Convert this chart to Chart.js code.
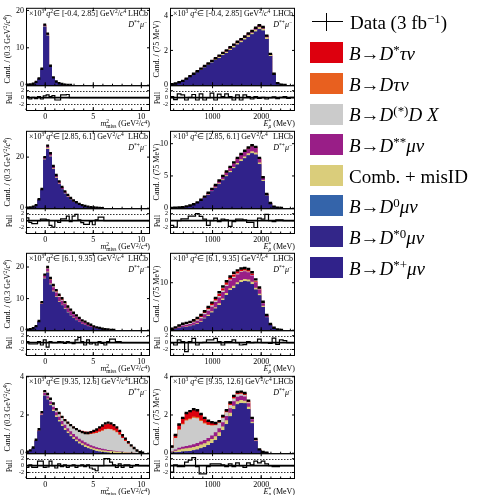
<!DOCTYPE html>
<html lang="en">
<head>
<meta charset="UTF-8">
<title>B to D* mu nu fit projections</title>
<script src="https://cdn.jsdelivr.net/npm/chart.js@4"></script>
<style>
  html, body { margin: 0; padding: 0; background: #fff; }
  #fig { position: relative; width: 477px; height: 495px; overflow: hidden;
         font-family: "Liberation Serif", "Times New Roman", serif; color: #000; }
  #fig canvas { position: absolute; }
  .txt { position: absolute; white-space: nowrap; line-height: 1; }
  .txt sup, .txt sub { font-size: 0.68em; line-height: 0; }
  .txt sup { vertical-align: 0.5em; }
  .txt sub { vertical-align: -0.25em; }
  .rot { transform: translate(-50%, -50%) rotate(-90deg); }
  .stk { display: inline-block; vertical-align: -0.35em; font-size: 0.68em; line-height: 0.95; }
  .stk span { display: block; }
  .sm { font-size: 8px; }
  .leg { font-size: 19px; line-height: 19px; }
  .box { position: absolute; width: 33px; height: 21px; }
  .bar { position: absolute; background: #000; }
</style>
</head>
<body>
<div id="fig"></div>
<script>
// q^2 slices, one row each
const q2Ranges = ['[-0.4, 2.85]', '[2.85, 6.1]', '[6.1, 9.35]', '[9.35, 12.6]'];

// binning
const m2Lo = -2, m2Width = 0.3, m2Bins = 43, m2Hi = 10.9;   // m2miss, GeV^2/c^4
const eLo = 125, eWidth = 75, eBins = 34, eHi = 2695;      // E*mu, MeV

// tick labels
const m2XTicks = [0, 5, 10];
const eXTicks = [1000, 2000];
const m2YTicks = [[0, 10, 20], [0, 20], [0, 10, 20], [0, 2, 4]];
const eYTicks = [[0, 2, 4], [0, 5, 10], [0, 10], [0, 2, 4]];
const m2YMax = [20.7, 30.3, 24.5, 4.05];
const eYMax = [4.45, 12, 16.3, 4.05];
const pullTicks = [-2, 0, 2];
const pullGuides = [-2, 2];

// ---- m2miss projections (x10^3 candidates), one array per q2 slice ----
const m2Data = [
  [0.1, 0.2, 0.4, 0.9, 1.8, 4.4, 16.2, 13.8, 5.2, 2.1, 1.0, 0.5, 0.3, 0.15, 0.08, 0.04],
  [0.15, 0.3, 0.6, 1.2, 3.5, 7.5, 20, 24.5, 21.5, 16.5, 13, 10.5, 8.3, 6.6, 5.2, 4.0, 3.0, 2.3, 1.7, 1.2, 0.85, 0.6, 0.4, 0.25, 0.15, 0.08, 0.04],
  [0.15, 0.3, 0.6, 1.3, 2.9, 8.9, 17.6, 20.0, 16.5, 14.3, 12.7, 11.2, 10.1, 8.9, 7.5, 6.5, 5.5, 4.7, 3.9, 3.1, 2.7, 2.1, 1.7, 1.2, 0.9, 0.7, 0.5, 0.3, 0.2, 0.1, 0.05],
  [0.08, 0.15, 0.3, 0.7, 1.25, 2.15, 3.25, 3.1, 2.85, 2.6, 2.3, 2.1, 1.9, 1.73, 1.6, 1.47, 1.35, 1.26, 1.17, 1.1, 1.06, 1.06, 1.1, 1.17, 1.24, 1.35, 1.45, 1.56, 1.6, 1.56, 1.47, 1.35, 1.17, 0.94, 0.76, 0.58, 0.41, 0.27, 0.14, 0.05, 0.02]
];
const m2DstpMu = [
  [0.09, 0.18, 0.37, 0.84, 1.7, 4.2, 15.6, 13.2, 4.9, 1.9, 0.88, 0.42, 0.24, 0.11, 0.05, 0.02],
  [0.13, 0.27, 0.55, 1.1, 3.3, 7.1, 19.0, 23.2, 20.1, 15.2, 11.8, 9.4, 7.3, 5.7, 4.4, 3.3, 2.45, 1.83, 1.32, 0.9, 0.62, 0.42, 0.27, 0.16, 0.09, 0.05, 0.02],
  [0.13, 0.27, 0.55, 1.2, 2.7, 8.3, 16.3, 18.2, 14.4, 12.2, 10.4, 8.9, 7.8, 6.7, 5.5, 4.6, 3.8, 3.1, 2.5, 1.9, 1.6, 1.2, 0.9, 0.6, 0.42, 0.3, 0.2, 0.11, 0.07, 0.03, 0.01],
  [0.07, 0.13, 0.27, 0.64, 1.15, 1.98, 3.0, 2.8, 2.5, 2.2, 1.9, 1.65, 1.42, 1.22, 1.04, 0.88, 0.74, 0.61, 0.5, 0.4, 0.32, 0.25, 0.19, 0.14, 0.1, 0.07, 0.05, 0.03, 0.02, 0.01, 0.01]
];
const m2Dst0Mu = [[], [], [], []];
const m2D0Mu = [[], [], [], []];
const m2Comb = [
  [0.01, 0.01, 0.02, 0.03, 0.05, 0.1, 0.25, 0.22, 0.12, 0.07, 0.04, 0.03, 0.02, 0.015, 0.01, 0.01],
  [0.01, 0.02, 0.03, 0.05, 0.1, 0.18, 0.4, 0.45, 0.45, 0.4, 0.35, 0.3, 0.25, 0.22, 0.19, 0.16, 0.13, 0.11, 0.09, 0.07, 0.06, 0.05, 0.04, 0.03, 0.02, 0.01, 0.01],
  [0.01, 0.01, 0.02, 0.04, 0.07, 0.15, 0.3, 0.35, 0.35, 0.33, 0.31, 0.3, 0.28, 0.26, 0.24, 0.22, 0.2, 0.18, 0.16, 0.14, 0.12, 0.1, 0.09, 0.07, 0.06, 0.05, 0.04, 0.03, 0.02, 0.01, 0.01],
  [0, 0.01, 0.01, 0.02, 0.03, 0.04, 0.05, 0.06, 0.07, 0.08, 0.08, 0.09, 0.09, 0.1, 0.1, 0.1, 0.11, 0.11, 0.11, 0.12, 0.12, 0.12, 0.12, 0.12, 0.12, 0.12, 0.11, 0.11, 0.1, 0.1, 0.09, 0.08, 0.07, 0.06, 0.05, 0.04, 0.03, 0.02, 0.01]
];
const m2Dss = [
  [0, 0.01, 0.01, 0.02, 0.04, 0.08, 0.25, 0.28, 0.14, 0.1, 0.06, 0.04, 0.03, 0.02, 0.015, 0.01],
  [0.01, 0.01, 0.02, 0.04, 0.08, 0.17, 0.45, 0.65, 0.75, 0.7, 0.65, 0.6, 0.55, 0.5, 0.45, 0.38, 0.3, 0.24, 0.19, 0.15, 0.1, 0.08, 0.05, 0.04, 0.03, 0.01, 0.01],
  [0.01, 0.01, 0.02, 0.04, 0.08, 0.3, 0.65, 0.9, 1.1, 1.1, 1.2, 1.3, 1.25, 1.3, 1.2, 1.15, 1.05, 0.95, 0.85, 0.75, 0.65, 0.55, 0.47, 0.36, 0.28, 0.22, 0.16, 0.1, 0.07, 0.04, 0.02],
  [0, 0.01, 0.01, 0.02, 0.04, 0.07, 0.1, 0.12, 0.14, 0.15, 0.16, 0.17, 0.17, 0.17, 0.17, 0.17, 0.16, 0.16, 0.15, 0.14, 0.13, 0.12, 0.11, 0.1, 0.09, 0.08, 0.07, 0.06, 0.05, 0.04, 0.03, 0.02, 0.02, 0.01, 0.01]
];
const m2DDX = [
  [],
  [0, 0, 0, 0, 0, 0, 0.02, 0.03, 0.04, 0.05, 0.05, 0.05, 0.04, 0.04, 0.03, 0.03, 0.02, 0.02, 0.02, 0.01, 0.01],
  [0, 0, 0, 0, 0.01, 0.03, 0.08, 0.12, 0.2, 0.25, 0.3, 0.3, 0.3, 0.28, 0.26, 0.24, 0.22, 0.2, 0.18, 0.16, 0.14, 0.12, 0.1, 0.08, 0.06, 0.05, 0.04, 0.03, 0.02, 0.01, 0.01],
  [0, 0, 0, 0, 0, 0.01, 0.05, 0.07, 0.1, 0.13, 0.14, 0.17, 0.2, 0.22, 0.25, 0.28, 0.3, 0.33, 0.36, 0.4, 0.44, 0.5, 0.58, 0.67, 0.75, 0.85, 0.95, 1.05, 1.1, 1.1, 1.06, 1.0, 0.88, 0.72, 0.58, 0.46, 0.33, 0.22, 0.12, 0.05]
];
const m2Dtau = [
  [], [], [],
  [0, 0, 0, 0, 0, 0, 0, 0, 0, 0, 0.01, 0.01, 0.01, 0.01, 0.01, 0.01, 0.02, 0.02, 0.02, 0.02, 0.02, 0.02, 0.02, 0.02, 0.02, 0.02, 0.02, 0.02, 0.02, 0.02, 0.02, 0.02, 0.01, 0.01, 0.01]
];
const m2DstTau = [
  [0, 0, 0, 0, 0.01, 0.02, 0.1, 0.1, 0.04, 0.03, 0.02, 0.01, 0.01],
  [0, 0, 0, 0.01, 0.02, 0.05, 0.15, 0.2, 0.2, 0.18, 0.15, 0.13, 0.11, 0.09, 0.08, 0.07, 0.06, 0.05, 0.04, 0.03, 0.03, 0.02, 0.02, 0.01, 0.01],
  [0, 0, 0, 0.01, 0.02, 0.08, 0.2, 0.3, 0.45, 0.45, 0.45, 0.4, 0.37, 0.33, 0.3, 0.27, 0.24, 0.21, 0.18, 0.15, 0.13, 0.11, 0.09, 0.07, 0.05, 0.04, 0.03, 0.02, 0.01, 0.01],
  [0, 0, 0, 0, 0, 0, 0.05, 0.05, 0.04, 0.04, 0.04, 0.04, 0.04, 0.04, 0.05, 0.05, 0.06, 0.07, 0.08, 0.09, 0.1, 0.11, 0.13, 0.15, 0.17, 0.2, 0.22, 0.25, 0.27, 0.27, 0.25, 0.22, 0.18, 0.14, 0.1, 0.07, 0.04, 0.02, 0.01]
];
const m2Pull = [
  [0.3, -0.4, 0.1, -0.3, 0.3, -0.4, 0.5, 0.8, 0.3, 0.6, -0.7, -0.7, 0.8, 0.8, 0.9],
  [0.8, -0.5, -0.9, -0.9, 0, 0.4, 0.4, 0.2, -1.4, -1.9, 0, -0.5, 0.5, 0.5, 1.3, -0.3, 1.3, 1.8, 0.2, -0.6, -1.1, -1.1, -0.3, -1.2, 0.2, 1.0, 1.0],
  [0.3, -0.4, -0.4, -0.4, 0.3, -0.7, 0.8, -1.3, 0.3, 0, 0, 0.3, 0.2, -0.2, 0.3, 0, -0.3, 0.8, 1.5, 0.3, -0.7, 0.8, -0.4, 0, -0.7, 0.3, -0.2, -0.7, 0.3, 1.0, 1.0, 0.3, 0.3],
  [-0.5, 0.2, -0.5, -0.5, 1.3, 1.3, -0.5, -0.4, 1.3, 0, -0.7, 0.5, -0.3, 0.2, -0.5, 0, 0.2, -0.5, 0, 0.2, -0.3, 0.2, -0.7, -1.0, -1.5, 0, 0, 2.0, 2.0, 1.0, 0.2, -0.5, 0.5, -0.5, 0.2, 0.2, -0.5, 0, 0.3, 0]
];

// ---- E*mu projections (x10^3 candidates) ----
const eData = [
  [0.05, 0.1, 0.17, 0.25, 0.38, 0.52, 0.66, 0.8, 0.95, 1.1, 1.25, 1.4, 1.55, 1.7, 1.86, 2.0, 2.18, 2.33, 2.5, 2.65, 2.8, 2.97, 3.12, 3.3, 3.45, 3.35, 2.85, 1.8, 0.66, 0.12, 0.03, 0.01],
  [0.03, 0.06, 0.1, 0.17, 0.28, 0.42, 0.62, 0.9, 1.3, 1.8, 2.4, 3.0, 3.6, 4.3, 5.0, 5.7, 6.4, 7.1, 7.8, 8.4, 8.9, 9.4, 9.75, 9.5, 7.8, 4.8, 2.2, 0.8, 0.25, 0.07, 0.02],
  [0.3, 0.6, 1.0, 1.35, 1.55, 1.75, 2.1, 2.6, 3.2, 4.0, 4.9, 5.8, 6.8, 8.0, 9.2, 10.3, 11.3, 12.1, 12.6, 13.0, 13.1, 12.9, 12.2, 10.7, 9.0, 6.0, 3.2, 1.3, 0.5, 0.15, 0.05],
  [0.35, 0.95, 1.5, 1.85, 2.1, 2.2, 2.3, 2.25, 2.05, 1.85, 1.7, 1.62, 1.58, 1.68, 1.95, 2.25, 2.65, 3.0, 3.2, 3.22, 3.15, 2.75, 1.85, 0.75, 0.2, 0.06, 0.02]
];
const eDstpMu = [
  [0.04, 0.08, 0.15, 0.22, 0.34, 0.47, 0.6, 0.73, 0.87, 1.01, 1.15, 1.29, 1.43, 1.57, 1.72, 1.85, 2.02, 2.16, 2.32, 2.46, 2.61, 2.77, 2.91, 3.08, 3.22, 3.13, 2.66, 1.68, 0.61, 0.11, 0.03, 0.01],
  [0.02, 0.05, 0.08, 0.14, 0.23, 0.35, 0.52, 0.76, 1.1, 1.54, 2.06, 2.58, 3.1, 3.71, 4.31, 4.92, 5.53, 6.14, 6.75, 7.28, 7.72, 8.17, 8.49, 8.29, 6.82, 4.21, 1.94, 0.71, 0.22, 0.06, 0.02],
  [0.1, 0.22, 0.4, 0.56, 0.66, 0.78, 1.0, 1.3, 1.7, 2.4, 3.0, 3.7, 4.5, 5.3, 6.3, 7.4, 8.4, 8.9, 9.6, 10.1, 10.3, 10.2, 9.7, 8.5, 7.3, 4.9, 2.65, 1.1, 0.43, 0.13, 0.04],
  [0.02, 0.03, 0.05, 0.07, 0.09, 0.11, 0.14, 0.18, 0.24, 0.31, 0.41, 0.53, 0.68, 0.9, 1.2, 1.52, 1.92, 2.3, 2.55, 2.62, 2.6, 2.3, 1.55, 0.62, 0.16, 0.05, 0.02]
];
const eDst0Mu = [[], [], [], []];
const eD0Mu = [[], [], [], []];
const eComb = [
  [0.01, 0.01, 0.01, 0.02, 0.02, 0.03, 0.03, 0.04, 0.04, 0.05, 0.05, 0.06, 0.06, 0.07, 0.07, 0.08, 0.08, 0.09, 0.09, 0.1, 0.1, 0.1, 0.11, 0.11, 0.12, 0.12, 0.1, 0.07, 0.03, 0.01],
  [0, 0, 0, 0.01, 0.01, 0.02, 0.02, 0.03, 0.05, 0.06, 0.08, 0.1, 0.12, 0.15, 0.17, 0.2, 0.22, 0.25, 0.27, 0.29, 0.31, 0.33, 0.34, 0.33, 0.27, 0.17, 0.08, 0.03, 0.01],
  [0.05, 0.08, 0.1, 0.12, 0.13, 0.14, 0.15, 0.17, 0.19, 0.22, 0.25, 0.28, 0.31, 0.35, 0.38, 0.41, 0.44, 0.46, 0.48, 0.49, 0.5, 0.5, 0.48, 0.43, 0.36, 0.24, 0.13, 0.05, 0.02, 0.01],
  [0.05, 0.1, 0.14, 0.16, 0.17, 0.18, 0.19, 0.2, 0.21, 0.21, 0.21, 0.21, 0.21, 0.2, 0.2, 0.2, 0.19, 0.18, 0.17, 0.16, 0.15, 0.13, 0.1, 0.05, 0.02, 0.01]
];
const eDss = [
  [0, 0.01, 0.01, 0.01, 0.02, 0.02, 0.03, 0.03, 0.04, 0.04, 0.05, 0.05, 0.06, 0.06, 0.07, 0.07, 0.08, 0.08, 0.09, 0.09, 0.09, 0.1, 0.1, 0.1, 0.1, 0.09, 0.08, 0.05, 0.02],
  [0.01, 0.01, 0.01, 0.02, 0.03, 0.04, 0.06, 0.08, 0.12, 0.16, 0.21, 0.26, 0.31, 0.36, 0.42, 0.47, 0.52, 0.57, 0.62, 0.66, 0.7, 0.73, 0.75, 0.72, 0.58, 0.34, 0.15, 0.05, 0.02, 0.01],
  [0.08, 0.15, 0.25, 0.33, 0.37, 0.4, 0.45, 0.53, 0.62, 0.72, 0.84, 0.98, 1.12, 1.25, 1.38, 1.5, 1.6, 1.65, 1.67, 1.65, 1.6, 1.5, 1.35, 1.15, 0.9, 0.55, 0.28, 0.1, 0.03, 0.01],
  [0.03, 0.06, 0.09, 0.11, 0.12, 0.13, 0.14, 0.15, 0.16, 0.17, 0.18, 0.19, 0.2, 0.21, 0.22, 0.23, 0.24, 0.24, 0.24, 0.23, 0.22, 0.18, 0.12, 0.05, 0.01]
];
const eDDX = [
  [], [],
  [0.04, 0.08, 0.13, 0.18, 0.2, 0.21, 0.23, 0.25, 0.27, 0.29, 0.3, 0.3, 0.3, 0.29, 0.28, 0.26, 0.24, 0.22, 0.2, 0.18, 0.16, 0.14, 0.12, 0.1, 0.08, 0.05, 0.02, 0.01],
  [0.2, 0.6, 0.95, 1.17, 1.33, 1.36, 1.39, 1.3, 1.08, 0.87, 0.67, 0.52, 0.37, 0.28, 0.23, 0.19, 0.17, 0.14, 0.12, 0.1, 0.08, 0.06, 0.04, 0.02, 0.01]
];
const eDtau = [
  [], [], [],
  [0, 0.02, 0.03, 0.04, 0.05, 0.05, 0.06, 0.06, 0.05, 0.04, 0.03, 0.02, 0.02, 0.01, 0.01, 0.01, 0.01, 0.01, 0.01, 0.01, 0.01, 0.01]
];
const eDstTau = [
  [0, 0, 0, 0, 0, 0, 0.01, 0.01, 0.01, 0.01, 0.01, 0.01, 0.01, 0.01, 0.01, 0.01, 0.01, 0.01, 0.01, 0.01, 0.01, 0.01, 0.01, 0.01, 0.01, 0.01],
  [0, 0, 0, 0, 0, 0.01, 0.01, 0.02, 0.02, 0.03, 0.04, 0.05, 0.06, 0.07, 0.08, 0.09, 0.1, 0.11, 0.12, 0.13, 0.13, 0.13, 0.13, 0.12, 0.09, 0.05, 0.02, 0.01],
  [0.03, 0.07, 0.12, 0.16, 0.19, 0.22, 0.27, 0.3, 0.34, 0.38, 0.42, 0.45, 0.48, 0.5, 0.52, 0.52, 0.52, 0.5, 0.47, 0.44, 0.4, 0.36, 0.3, 0.24, 0.18, 0.12, 0.06, 0.02, 0.01],
  [0.05, 0.14, 0.24, 0.3, 0.34, 0.37, 0.38, 0.36, 0.31, 0.25, 0.2, 0.15, 0.1, 0.08, 0.09, 0.1, 0.12, 0.13, 0.11, 0.1, 0.09, 0.07, 0.04, 0.01]
];
const ePull = [
  [0.3, -0.6, 1.1, 0.8, -0.7, 0.1, 0.9, -0.7, 1.1, -0.7, 0.0, 1.3, -0.7, 1.0, 0.3, 1.1, 0.3, -0.7, 0.8, -0.7, 0.8, 0.3, -0.4, 0.3, -0.2, 0.1, -0.4, 0.0, 0.2, -0.3, 0.1, 0.3, -0.2, 0.1],
  [-1.4, -1.9, 0, 0.5, 0.5, 1.3, 1.3, 2.0, 1.2, 0.4, -1.4, 0, 0.7, -0.3, 0.4, 0.2, -1.7, -0.3, 0.4, 0.4, 0.2, -0.5, -0.5, -2.0, 0.7, 0.4, 1.8, 0, -0.3, 0.2, 0.2, 0, 0, 0],
  [0, -0.7, 0.8, 0.3, -2.6, 0.3, 1.2, -0.7, 0, 0.1, 0.8, 0.8, 1.2, 0.3, -0.7, 0.3, 0.3, 0.8, 0, -0.7, -0.6, 0.3, 0, 0.1, 1.0, 0, 0, -0.2, 1.3, -0.5, 0.8, 0.6, 0, 0],
  [-1.9, 0.2, -0.3, -0.3, 1.0, 1.6, 2.3, -0.3, -2.4, -2.4, -0.3, 0.5, 0.5, 0.5, 0.2, -0.3, 0.5, -0.3, 0.8, 0, -0.5, 0.8, 0.2, 1.3, 0.8, 1.3, 0.5, 0, -0.3, -0.3, 0, 0, 0, 0]
];

// legend order (top to bottom); the stack is built in reverse
const legendLabels = [
  '<i>B</i>&rarr;<i>D</i><sup>*</sup><i>&tau;&nu;</i>',
  '<i>B</i>&rarr;<i>D&tau;&nu;</i>',
  '<i>B</i>&rarr;<i>D</i><sup>(*)</sup><i>D X</i>',
  '<i>B</i>&rarr;<i>D</i><sup>**</sup><i>&mu;&nu;</i>',
  'Comb. + misID',
  '<i>B</i>&rarr;<i>D</i><sup>0</sup><i>&mu;&nu;</i>',
  '<i>B</i>&rarr;<i>D</i><sup>*0</sup><i>&mu;&nu;</i>',
  '<i>B</i>&rarr;<i>D</i><sup>*+</sup><i>&mu;&nu;</i>'
];
const legendColors = ['#dd000e', '#e8601f', '#cbcbcb', '#991e87', '#dacd7b', '#3464aa', '#332689', '#30228a'];
const m2Comp = [m2DstTau, m2Dtau, m2DDX, m2Dss, m2Comb, m2D0Mu, m2Dst0Mu, m2DstpMu];
const eComp = [eDstTau, eDtau, eDDX, eDss, eComb, eD0Mu, eDst0Mu, eDstpMu];

Chart.defaults.font.family = '"Liberation Serif", "Times New Roman", serif';
Chart.defaults.color = '#000';

const fig = document.getElementById('fig');
const rowTop = [7, 130, 252, 375];
const colLeft = [26, 170];
const colWidth = [124, 125];
const mainH = 78, pullH = 25;
const padT = 6, padR = 8, yW = 22, xH = 16;

function addText(html, css, cls) {
    const d = document.createElement('div');
    d.className = 'txt ' + (cls || '');
    d.innerHTML = html;
    Object.assign(d.style, css);
    fig.appendChild(d);
    return d;
}

// frame, inward ticks and pull guide lines
const panelFrame = {
    id: 'panelFrame',
    beforeDatasetsDraw(chart) {
        const {ctx, chartArea: a} = chart;
        const yp = chart.scales.yp;
        ctx.save();
        ctx.strokeStyle = '#000';
        ctx.lineWidth = 0.8;
        ctx.setLineDash([1.5, 1.5]);
        pullGuides.forEach(v => {
            const py = Math.round(yp.getPixelForValue(v)) + 0.5;
            ctx.beginPath(); ctx.moveTo(a.left, py); ctx.lineTo(a.right, py); ctx.stroke();
        });
        ctx.setLineDash([]);
        ctx.lineWidth = 1.7;
        const p0 = yp.getPixelForValue(0);
        ctx.beginPath(); ctx.moveTo(a.left, p0); ctx.lineTo(a.right, p0); ctx.stroke();
        ctx.restore();
    },
    afterDatasetsDraw(chart, args, opts) {
        const {ctx, chartArea: a} = chart;
        const {x, y, yp} = chart.scales;
        ctx.save();
        ctx.strokeStyle = '#000';
        ctx.lineWidth = 1;
        [y, yp].forEach(s => {
            ctx.strokeRect(a.left + 0.5, s.top + 0.5, a.right - a.left - 1, s.bottom - s.top);
            ctx.beginPath();
            s.ticks.forEach(t => {
                const py = s.getPixelForValue(t.value);
                ctx.moveTo(a.left, py); ctx.lineTo(a.left + 3, py);
                ctx.moveTo(a.right, py); ctx.lineTo(a.right - 3, py);
            });
            x.ticks.forEach(t => {
                const px = x.getPixelForValue(t.value);
                ctx.moveTo(px, s.bottom); ctx.lineTo(px, s.bottom - 3);
                ctx.moveTo(px, s.top); ctx.lineTo(px, s.top + 3);
            });
            for (let v = Math.ceil(x.min / opts.minor) * opts.minor; v <= x.max; v += opts.minor) {
                const px = x.getPixelForValue(v);
                ctx.moveTo(px, s.bottom); ctx.lineTo(px, s.bottom - 1.5);
            }
            ctx.stroke();
        });
        ctx.restore();
    }
};

function drawPanel(row, col) {
    const isM2 = col === 0;
    const lo = isM2 ? m2Lo : eLo;
    const w = isM2 ? m2Width : eWidth;
    const n = isM2 ? m2Bins : eBins;
    const hi = isM2 ? m2Hi : eHi;
    const comps = isM2 ? m2Comp : eComp;
    const dataVals = (isM2 ? m2Data : eData)[row];
    const pullVals = (isM2 ? m2Pull : ePull)[row];
    const yMax = (isM2 ? m2YMax : eYMax)[row];
    const yTicks = (isM2 ? m2YTicks : eYTicks)[row];
    const xTicks = isM2 ? m2XTicks : eXTicks;
    const centre = i => lo + (i + 0.5) * w;
    // histogram as step points on the bin edges (plus the closing edge)
    const stepPoints = vals => {
        const pts = [];
        for (let i = 0; i < n; i++) pts.push({x: lo + i * w, y: vals[i] || 0});
        pts.push({x: lo + n * w, y: vals[n - 1] || 0});
        return pts;
    };

    const canvas = document.createElement('canvas');
    canvas.width = yW + colWidth[col] + padR;
    canvas.height = padT + mainH + pullH + xH;
    canvas.style.left = (colLeft[col] - yW) + 'px';
    canvas.style.top = (rowTop[row] - padT) + 'px';
    fig.appendChild(canvas);

    const datasets = [];
    datasets.push({
        type: 'scatter', stack: 'data', order: -2, yAxisID: 'y',
        data: dataVals.map((v, i) => ({x: centre(i), y: v})).filter(p => p.y > 0),
        pointStyle: 'line',
        pointRadius: ctx => Math.abs(ctx.chart.scales.x.getPixelForValue(lo + w) - ctx.chart.scales.x.getPixelForValue(lo)) / 2,
        pointBorderWidth: 2.4,
        borderColor: '#000', backgroundColor: '#000'
    });
    datasets.push({
        type: 'line', order: -1, yAxisID: 'yp', data: stepPoints(pullVals), stepped: 'before',
        borderColor: '#000', borderWidth: 1.2, pointRadius: 0, fill: false
    });
    // stacked components, bottom first; each filled down to zero so the lower ones paint over
    for (let c = comps.length - 1; c >= 0; c--) {
        datasets.push({
            type: 'line', stack: 'model', order: 0, yAxisID: 'y',
            data: stepPoints(comps[c][row]), stepped: 'before',
            fill: 'origin', backgroundColor: legendColors[c],
            borderWidth: 0, borderColor: 'rgba(0,0,0,0)', pointRadius: 0
        });
    }

    const tickFont = {size: 8};
    new Chart(canvas, {
        type: 'line',
        data: {datasets},
        options: {
            responsive: false,
            animation: false,
            events: [],
            layout: {padding: {top: padT, right: padR, left: 0, bottom: 0}},
            plugins: {legend: {display: false}, tooltip: {enabled: false}, panelFrame: {minor: isM2 ? 1 : 200}},
            scales: {
                x: {
                    type: 'linear', min: lo, max: hi, offset: false,
                    grid: {display: false, drawTicks: false}, border: {display: false},
                    ticks: {font: tickFont, padding: 2, maxRotation: 0, autoSkip: false, callback: v => String(v)},
                    afterBuildTicks: s => { s.ticks = xTicks.map(v => ({value: v})); },
                    afterFit: s => { s.height = xH; }
                },
                y: {
                    type: 'linear', position: 'left', stack: 'panel', stackWeight: mainH, weight: 2,
                    min: 0, max: yMax, stacked: true,
                    grid: {display: false, drawTicks: false}, border: {display: false},
                    ticks: {font: tickFont, padding: 2, autoSkip: false, callback: v => String(v)},
                    afterBuildTicks: s => { s.ticks = yTicks.map(v => ({value: v})); },
                    afterFit: s => { s.width = yW; }
                },
                yp: {
                    type: 'linear', position: 'left', stack: 'panel', stackWeight: pullH, weight: 1,
                    min: -3.6, max: 3.6,
                    grid: {display: false, drawTicks: false}, border: {display: false},
                    ticks: {font: {size: 6}, padding: 2, autoSkip: false, callback: v => String(v)},
                    afterBuildTicks: s => { s.ticks = pullTicks.map(v => ({value: v})); },
                    afterFit: s => { s.width = yW; }
                }
            }
        },
        plugins: [panelFrame]
    });

    // panel texts
    const T = rowTop[row], L = colLeft[col], R = L + colWidth[col];
    addText('&times;10<sup>3</sup> <i>q</i><sup>2</sup>&isin; ' + q2Ranges[row] + ' GeV<sup>2</sup>/<i>c</i><sup>4</sup>',
        {left: (L + 3) + 'px', top: (T + 3) + 'px'}, 'sm');
    addText('LHCb', {right: (477 - R + 2) + 'px', top: (T + 3) + 'px', fontSize: '8px'});
    addText('<i>D</i><sup>*+</sup><i>&mu;</i><sup>&minus;</sup>', {right: (477 - R + 3) + 'px', top: (T + 14) + 'px'}, 'sm');
    addText(isM2 ? 'Cand. / (0.3 GeV<sup>2</sup>/<i>c</i><sup>4</sup>)' : 'Cand. / (75 MeV)',
        {left: (col === 0 ? 8 : 156.5) + 'px', top: (T + 42) + 'px'}, 'sm rot');
    addText('Pull', {left: (col === 0 ? 9.5 : 157.5) + 'px', top: (T + mainH + 12.5) + 'px', fontSize: '7.5px'}, 'rot');
    addText(isM2 ? '<i>m</i><span class="stk"><span>2</span><span>miss</span></span> (GeV<sup>2</sup>/<i>c</i><sup>4</sup>)'
                 : '<i>E</i><span class="stk"><span>*</span><span><i>&mu;</i></span></span> (MeV)',
        {right: (477 - R) + 'px', top: (T + 112) + 'px', fontSize: '8px'});
}

for (let r = 0; r < 4; r++) {
    drawPanel(r, 0);
    drawPanel(r, 1);
}

// legend
const cross1 = document.createElement('div');
cross1.className = 'bar';
Object.assign(cross1.style, {left: '312px', top: '21px', width: '31px', height: '1.4px'});
const cross2 = document.createElement('div');
cross2.className = 'bar';
Object.assign(cross2.style, {left: '326px', top: '13px', width: '1.4px', height: '18px'});
fig.appendChild(cross1);
fig.appendChild(cross2);
addText('Data (3 fb<sup>&minus;1</sup>)', {left: '350px', top: '13.4px'}, 'leg');

legendLabels.forEach((lab, i) => {
    const top = 42.3 + 30.63 * i;
    const b = document.createElement('div');
    b.className = 'box';
    Object.assign(b.style, {left: '310px', top: top + 'px', background: legendColors[i]});
    fig.appendChild(b);
    addText(lab, {left: '349px', top: (top + 1.8) + 'px'}, 'leg');
});
</script>
</body>
</html>
